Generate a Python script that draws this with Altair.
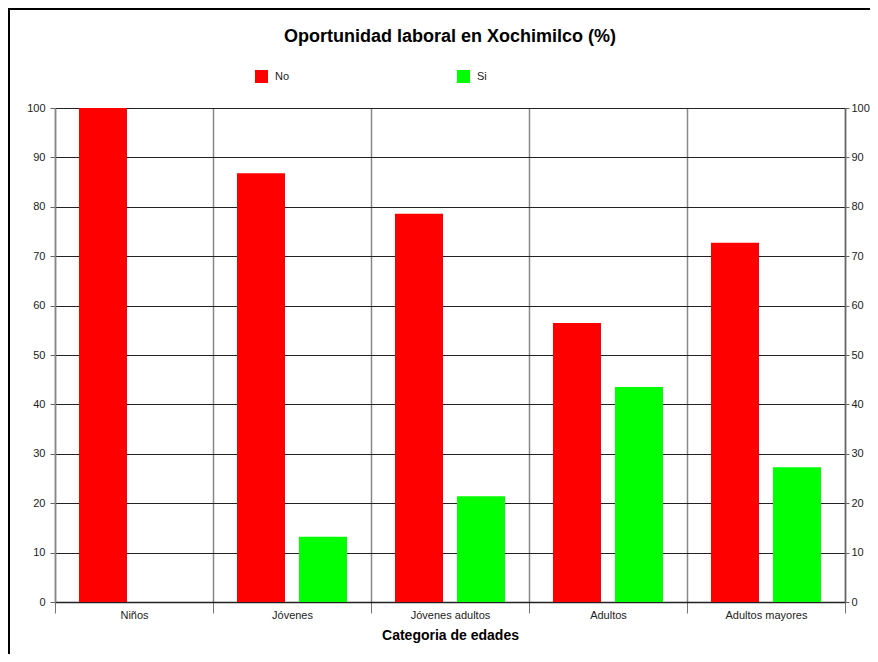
import altair as alt
import pandas as pd

categorias = ["Niños", "Jóvenes", "Jóvenes adultos", "Adultos", "Adultos mayores"]
series = ["No", "Si"]
valores_no = [100, 86.8, 78.6, 56.5, 72.7]
valores_si = [0, 13.2, 21.4, 43.5, 27.3]
colores = ["#FF0000", "#00FF00"]
ticks_y = list(range(0, 101, 10))

rows = []
for c, n, s in zip(categorias, valores_no, valores_si):
    rows.append({"Categoria": c, "Serie": "No", "Valor": n})
    rows.append({"Categoria": c, "Serie": "Si", "Valor": s})
df = pd.DataFrame(rows)

FONT = "Arial, Liberation Sans, sans-serif"

x_enc = alt.X(
    "Categoria:N",
    sort=categorias,
    scale=alt.Scale(paddingInner=0, paddingOuter=0),
    axis=alt.Axis(
        title="Categoria de edades",
        titleFont=FONT, titleFontSize=14, titleFontWeight="bold", titleColor="#000",
        titlePadding=8,
        labelFont=FONT, labelFontSize=11, labelColor="#222", labelAngle=0,
        labelPadding=-4,
        tickBand="extent", tickSize=11, tickColor="#777",
        grid=True, gridColor="#888", gridWidth=1.5,
        domainColor="#222", domainWidth=1.5,
    ),
)
xoff = alt.XOffset(
    "Serie:N", sort=series,
    scale=alt.Scale(paddingInner=0.2258, paddingOuter=0.387),
)

bars = alt.Chart(df).mark_bar().encode(
    x=x_enc,
    xOffset=xoff,
    y=alt.Y(
        "Valor:Q",
        scale=alt.Scale(domain=[0, 100], nice=False),
        axis=alt.Axis(
            title=None, values=ticks_y, orient="left",
            labelFont=FONT, labelFontSize=11, labelColor="#222",
            tickSize=5, tickColor="#666", labelPadding=5,
            grid=True, gridColor="#222", gridWidth=1.2,
            domainColor="#888", domainWidth=1.5,
        ),
    ),
    color=alt.Color(
        "Serie:N", sort=series,
        scale=alt.Scale(domain=series, range=colores),
        legend=alt.Legend(
            title=None, orient="none", legendX=200, legendY=-38,
            direction="horizontal", symbolType="square", symbolSize=169,
            symbolStrokeWidth=0, labelFont=FONT, labelFontSize=11,
            labelColor="#222", labelOffset=7, columnPadding=167, padding=0,
        ),
    ),
)

right = alt.Chart(df).mark_point(opacity=0).encode(
    x=alt.X("Categoria:N", sort=categorias),
    y=alt.Y(
        "Valor:Q",
        scale=alt.Scale(domain=[0, 100], nice=False),
        axis=alt.Axis(
            title=None, values=ticks_y, orient="right", grid=False,
            labelFont=FONT, labelFontSize=11, labelColor="#222",
            tickSize=4, tickColor="#666", labelPadding=2,
            domainColor="#666", domainWidth=1.5,
        ),
    ),
)

frame_top = alt.Chart(df).mark_rule(color="#000", strokeWidth=2).encode(
    x=alt.value(-47), x2=alt.value(830), y=alt.value(-99)
)
frame_left = alt.Chart(df).mark_rule(color="#000", strokeWidth=2).encode(
    x=alt.value(-46), y=alt.value(-99), y2=alt.value(560)
)

chart = (
    alt.layer(bars, right, frame_top, frame_left)
    .resolve_scale(y="independent")
    .properties(
        width=790,
        height=494,
        autosize=alt.AutoSizeParams(type="none"),
        padding={"left": 47, "top": 100, "right": 25, "bottom": 52},
        title=alt.Title(
            "Oportunidad laboral en Xochimilco (%)",
            font=FONT, fontSize=18, fontWeight="bold", color="#000",
            anchor="middle", offset=-38,
        ),
    )
    .configure_view(stroke=None)
    .configure(background="#FFFFFF")
)

chart.save("out.html", embed_options={"renderer": "svg", "actions": False})
